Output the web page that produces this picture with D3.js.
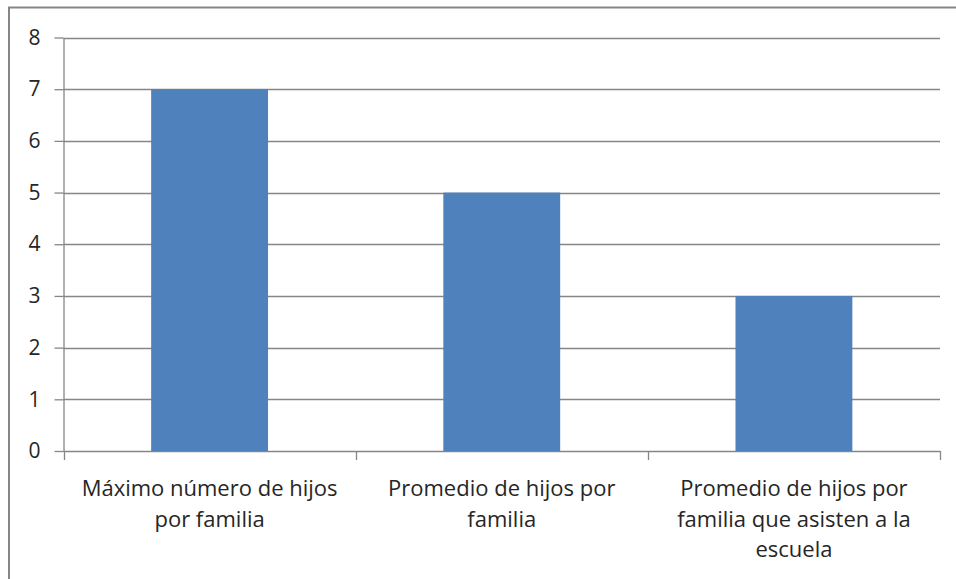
<!DOCTYPE html>
<html>
<head>
<meta charset="utf-8">
<script src="https://cdn.jsdelivr.net/npm/d3@7"></script>
<style>
  body { margin: 0; background: #fff; }
  svg { display: block; }
  .axis text { font-family: "Open Sans", "Liberation Sans", Arial, sans-serif; fill: #262626; }
  .axis path, .axis line { stroke: #868686; }
</style>
</head>
<body>
<svg></svg>
<script>
// data
const categories = ["Máximo número de hijos por familia", "Promedio de hijos por familia", "Promedio de hijos por familia que asisten a la escuela"];
const categoryLines = [
  ["Máximo número de hijos", "por familia"],
  ["Promedio de hijos por", "familia"],
  ["Promedio de hijos por", "familia que asisten a la", "escuela"]
];
const values = [7, 5, 3];
const yTicks = [0, 1, 2, 3, 4, 5, 6, 7, 8];

const width = 956;
const height = 579;
const plotLeft = 63.5, plotRight = 940, plotTop = 37.5, plotBottom = 451;

const svg = d3.select("svg")
  .attr("width", width)
  .attr("height", height);

// outer frame (only top and left visible)
svg.append("path")
  .attr("d", `M9,${height} L9,7.5 L${width},7.5`)
  .attr("fill", "none")
  .attr("stroke", "#868686")
  .attr("stroke-width", 2);

// scales
const x = d3.scaleBand()
  .domain(categories)
  .range([plotLeft, plotRight])
  .paddingInner(0.6)
  .paddingOuter(0.3);

const y = d3.scaleLinear()
  .domain([0, 8])
  .range([plotBottom, plotTop]);

// gridlines
svg.append("g")
  .selectAll("line")
  .data(yTicks)
  .enter()
  .append("line")
  .attr("x1", plotLeft)
  .attr("x2", plotRight)
  .attr("y1", (d) => Math.round(y(d)) + 0.5)
  .attr("y2", (d) => Math.round(y(d)) + 0.5)
  .attr("stroke", "#868686")
  .attr("stroke-width", 1.3);

// bars
svg.append("g")
  .selectAll("rect")
  .data(values)
  .enter()
  .append("rect")
  .attr("x", (d, i) => x(categories[i]))
  .attr("width", x.bandwidth())
  .attr("y", (d) => y(d))
  .attr("height", (d) => y(0) - y(d))
  .attr("fill", "#4F81BD");

// y axis
const yAxis = d3.axisLeft(y).tickValues(yTicks).tickSize(9).tickPadding(14).tickSizeOuter(0);
const gy = svg.append("g")
  .attr("class", "axis")
  .attr("transform", `translate(${plotLeft}, 0)`)
  .call(yAxis);
gy.attr("font-size", null).attr("font-family", null);
gy.selectAll("text").style("font-size", "21px");
gy.selectAll("line").attr("stroke-width", 1.3);
gy.select(".domain").attr("stroke-width", 1.3);

// x axis: ticks at category boundaries
const bounds = [0, 1, 2, 3].map((i) => plotLeft + i * (plotRight - plotLeft) / 3);
const gx = svg.append("g").attr("class", "axis");
gx.selectAll("line")
  .data(bounds)
  .enter()
  .append("line")
  .attr("x1", (d) => Math.round(d) + 0.5)
  .attr("x2", (d) => Math.round(d) + 0.5)
  .attr("y1", plotBottom)
  .attr("y2", plotBottom + 9)
  .attr("stroke-width", 1.3);

gx.selectAll("text")
  .data(categoryLines)
  .enter()
  .append("text")
  .attr("text-anchor", "middle")
  .style("font-size", "22px")
  .attr("x", (d, i) => x(categories[i]) + x.bandwidth() / 2)
  .attr("y", 496)
  .selectAll("tspan")
  .data((d) => d)
  .enter()
  .append("tspan")
  .attr("x", function () { return this.parentNode.getAttribute("x"); })
  .attr("dy", (d, i) => i === 0 ? 0 : 30.5)
  .text((d) => d);
</script>
</body>
</html>
